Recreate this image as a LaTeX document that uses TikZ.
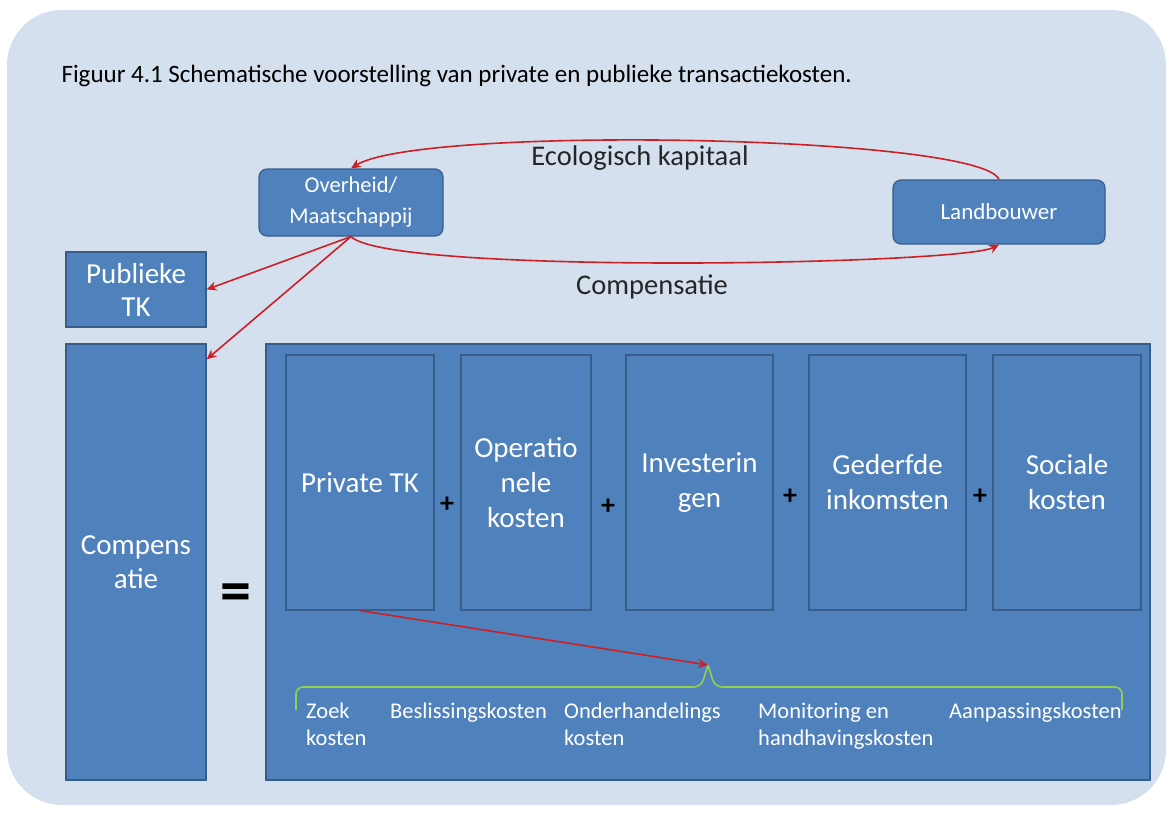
\documentclass[tikz,border=0pt]{standalone}
\usepackage{fontspec}
\setmainfont{Carlito}
\usepackage{tikz}
\usetikzlibrary{arrows.meta}

\definecolor{bgblue}{RGB}{213,224,238}
\definecolor{boxblue}{RGB}{79,129,189}
\definecolor{boxline}{RGB}{56,93,138}
\definecolor{arrowred}{RGB}{204,32,38}
\definecolor{bracegreen}{RGB}{146,208,80}

\begin{document}
\begin{tikzpicture}[x=1pt,y=-1pt,
    redline/.style={arrowred,line width=1.6pt,-{Stealth[length=10pt,width=9pt]}},
    sign/.style={text=black,font=\fontsize{28}{28}\selectfont\bfseries}]
    \useasboundingbox (0,0) rectangle (1166,817);
    \fill[bgblue,rounded corners=55pt] (7,10) rectangle (1166,805);
    \node[anchor=west,font=\fontsize{25}{30}\selectfont] (title) at (58,76)
        {Figuur 4.1 Schematische voorstelling van private en publieke transactiekosten.};

    \begin{scope}[every node/.style={draw=boxline,line width=1.2pt,fill=boxblue,text=white,align=center,inner sep=0pt}]
        \node[rounded corners=8pt,minimum width=184pt,minimum height=67pt,font=\fontsize{22.5}{31}\selectfont] (over) at (351,202.5) {Overheid/\\Maatschappij};
        \node[rounded corners=8pt,minimum width=212pt,minimum height=64pt,font=\fontsize{23}{31}\selectfont] (land) at (999,212) {Landbouwer};
        \node[minimum width=140pt,minimum height=75pt,font=\fontsize{29}{33}\selectfont] (pub) at (136,289.5) {Publieke\\TK};
        \node[minimum width=140pt,minimum height=436pt,font=\fontsize{29}{34}\selectfont] (comp) at (136,562) {Compens\\atie};
        \node[minimum width=884pt,minimum height=436pt] (sum) at (708,562) {};
    \end{scope}

    \begin{scope}[every node/.style={draw=boxline,line width=1.2pt,fill=boxblue,text=white,align=center,inner sep=0pt,
        minimum height=255pt,font=\fontsize{29}{35}\selectfont}]
        \node[minimum width=148pt] (priv) at (360,482.5) {Private TK};
        \node[minimum width=130pt] (oper) at (526,482.5) {Operatio\\nele\\kosten};
        \node[minimum width=147pt] (inv) at (699.5,482.5) {Investerin\\gen};
        \node[minimum width=157pt] (ged) at (887.5,482.5) {Gederfde\\inkomsten};
        \node[minimum width=148pt] (soc) at (1067,482.5) {Sociale\\kosten};
    \end{scope}

    \node[sign] (p1) at (447,505) {+};
    \node[sign] (p2) at (608,507) {+};
    \node[sign] (p3) at (790,497) {+};
    \node[sign] (p4) at (980,497) {+};
    \node[text=black,font=\fontsize{62}{62}\selectfont\bfseries] (eq) at (236,598) {=};

    \begin{scope}[every node/.style={anchor=north west,inner sep=0pt,text=white,align=left,font=\fontsize{22.5}{27}\selectfont}]
        \node (zoek) at (306,703) {Zoek\\kosten};
        \node (besl) at (390,703) {Beslissingskosten};
        \node (onder) at (564,703) {Onderhandelings\\kosten};
        \node (moni) at (758,703) {Monitoring en\\handhavingskosten};
        \node (aanp) at (949,703) {Aanpassingskosten};
    \end{scope}

    \coordinate (bl) at (296,710);
    \coordinate (br) at (1122,710);
    \coordinate (tip) at (708,665);
    \draw[bracegreen,line width=1.6pt,rounded corners=7pt] (bl) |- (701,687) -- (tip);
    \draw[bracegreen,line width=1.6pt,rounded corners=7pt] (tip) -- (715,687) -| (br);

    \draw[redline] (land.north) .. controls (980,135) and (420,125) .. (over.north);
    \draw[redline] (over.south) .. controls (390,275) and (960,265) .. (land.south);
    \path[redline] (over.south) edge (pub.east);
    \path[redline] (over.south) edge ([yshift=-16pt]comp.north east);
    \path[redline] (priv.south) edge (tip);

    \node[font=\fontsize{28.5}{32}\selectfont,text=black!85] (eco) at (640,158) {Ecologisch kapitaal};
    \node[font=\fontsize{28.5}{32}\selectfont,text=black!85] (cmp) at (652,287) {Compensatie};
\end{tikzpicture}
\end{document}
